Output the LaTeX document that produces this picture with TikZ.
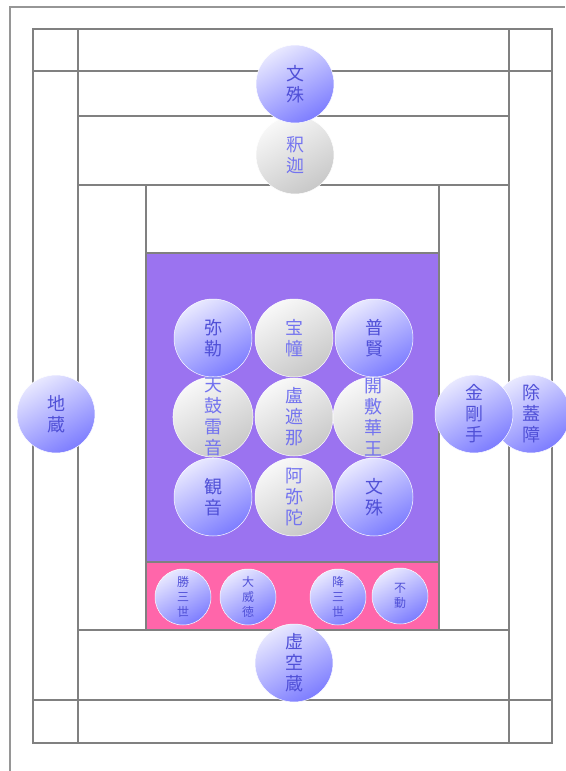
\documentclass[tikz,border=0pt]{standalone}
\usepackage{fontspec}
\newfontfamily\cjk{Noto Sans CJK JP}
\definecolor{lineg}{RGB}{128,128,128}
\definecolor{framec}{RGB}{150,150,150}
\definecolor{purp}{RGB}{155,115,240}
\definecolor{pinkc}{RGB}{255,102,170}
\definecolor{blA}{RGB}{232,232,255}
\definecolor{blB}{RGB}{125,125,255}
\definecolor{grA}{RGB}{248,248,248}
\definecolor{grB}{RGB}{200,200,200}
\definecolor{btxt}{RGB}{80,80,215}
\definecolor{gtxt}{RGB}{115,115,240}
\tikzset{
  ln/.style={draw=lineg, line width=2.4pt},
  frameln/.style={draw=framec, line width=1.8pt},
  disc/.style={circle, inner sep=0pt, align=center, draw=white, line width=0.5pt},
  bigdisc/.style={disc, minimum size=78pt, font=\cjk\fontsize{18}{21}\selectfont},
  smalldisc/.style={disc, minimum size=56pt, font=\cjk\fontsize{12}{15}\selectfont},
  bluefill/.style={top color=blA, bottom color=blB, shading angle=30, text=btxt},
  grayfill/.style={top color=grA, bottom color=grB, shading angle=30, text=gtxt},
  bb/.style={bigdisc, bluefill},
  bg/.style={bigdisc, grayfill},
  sb/.style={smalldisc, bluefill}
}
\begin{document}
\begin{tikzpicture}[x=1pt,y=-1pt]
\useasboundingbox (0,0) rectangle (565,771);
\fill[white] (0,0) rectangle (565,771);
% coloured panels
\fill[purp] (146,253) rectangle (439,562);
\fill[pinkc] (146,562) rectangle (439,630);
% outer frame
\draw[frameln] (10,771) -- (10,7) -- (565,7);
% grid lines
\draw[ln] (33,29) rectangle (552,743);
\draw[ln] (78,29) -- (78,743);
\draw[ln] (509,29) -- (509,743);
\draw[ln] (33,71) -- (552,71);
\draw[ln] (33,700) -- (552,700);
\draw[ln] (78,116) -- (509,116);
\draw[ln] (78,185) -- (509,185);
\draw[ln] (78,630) -- (509,630);
\draw[ln] (146,185) -- (146,630);
\draw[ln] (439,185) -- (439,630);
\draw[ln] (146,253) -- (439,253);
\draw[ln] (146,562) -- (439,562);
% top figures
\node[bg] (shaka) at (295,155) {釈\\迦};
\node[bb] (monju1) at (295,84) {文\\殊};
% central 3x3
\node[bb] (miroku) at (213,338) {弥\\勒};
\node[bg] (hodo) at (294,338) {宝\\幢};
\node[bb] (fugen) at (374,338) {普\\賢};
\node[bg] (tenku) at (213,417) {天\\鼓\\雷\\音};
\node[bg] (roshana) at (294,417) {盧\\遮\\那};
\node[bg] (kaifu) at (373,417) {開\\敷\\華\\王};
\node[bb] (kannon) at (213,497) {観\\音};
\node[bg] (amida) at (294,497) {阿\\弥\\陀};
\node[bb] (monju2) at (374,497) {文\\殊};
% pink row
\node[sb] (shozanze) at (183,597) {勝\\三\\世};
\node[sb] (daiitoku) at (248,597) {大\\威\\徳};
\node[sb] (gozanze) at (338,597) {降\\三\\世};
\node[sb] (fudo) at (400,596) {不\\動};
% bottom and sides
\node[bb] (kokuzo) at (294,663) {虚\\空\\蔵};
\node[bb] (jizo) at (56,414) {地\\蔵};
\node[bb] (jogaisho) at (531,414) {除\\蓋\\障};
\node[bb] (kongoshu) at (474,414) {金\\剛\\手};
\end{tikzpicture}
\end{document}
